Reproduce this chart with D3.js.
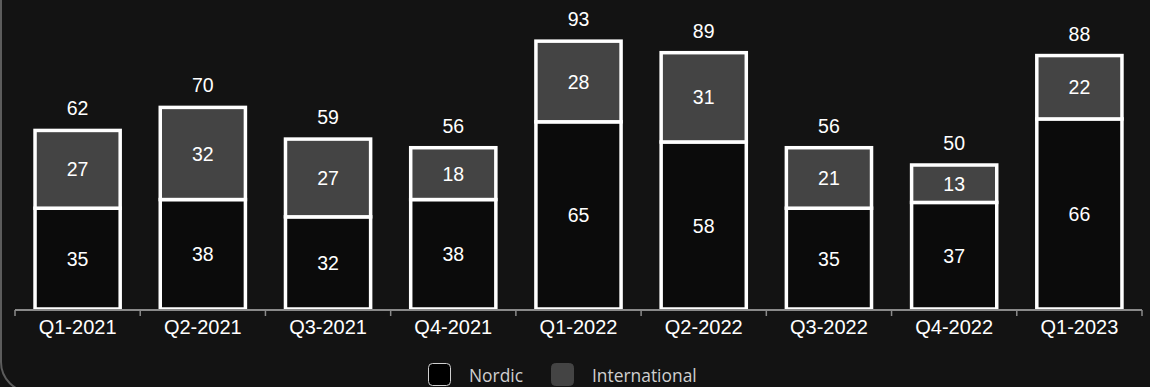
<!DOCTYPE html>
<html>
<head>
<meta charset="utf-8">
<script src="https://cdn.jsdelivr.net/npm/d3@7/dist/d3.min.js"></script>
<style>
  html, body { margin: 0; padding: 0; background: #131313; }
  svg { display: block; }
</style>
</head>
<body>
<svg id="chart" width="1150" height="387"></svg>
<script>
// Quarterly figures, split by market
const quarters = ["Q1-2021", "Q2-2021", "Q3-2021", "Q4-2021", "Q1-2022", "Q2-2022", "Q3-2022", "Q4-2022", "Q1-2023"];
const nordic = [35, 38, 32, 38, 65, 58, 35, 37, 66];
const international = [27, 32, 27, 18, 28, 31, 21, 13, 22];
const seriesNames = ["Nordic", "International"];
const seriesColors = ["#0b0b0b", "#444444"];

const W = 1150, H = 387;
const margin = { left: 15, right: 8, top: 21, bottom: 78 };
const svg = d3.select("#chart");

// Card outline with a rounded lower-left corner
svg.append("rect")
  .attr("x", 1).attr("y", -40)
  .attr("width", W + 40).attr("height", 432)
  .attr("rx", 30)
  .attr("fill", "#131313")
  .attr("stroke", "#5c5c5c")
  .attr("stroke-width", 2);

const rows = quarters.map((q, i) => ({ q, Nordic: nordic[i], International: international[i] }));
const stacked = d3.stack().keys(seriesNames)(rows);

const x = d3.scaleBand().domain(quarters)
  .range([margin.left, W - margin.right])
  .paddingInner(0.32).paddingOuter(0.16);
const y = d3.scaleLinear().domain([0, 100]).range([H - margin.bottom, margin.top]);
const color = d3.scaleOrdinal().domain(seriesNames).range(seriesColors);

const font = "'Liberation Sans', Arial, sans-serif";

// Stacked segments
const layer = svg.append("g").selectAll("g")
  .data(stacked).join("g")
  .attr("fill", d => color(d.key));

layer.selectAll("rect")
  .data(d => d)
  .join("rect")
  .attr("x", d => x(d.data.q))
  .attr("y", d => y(d[1]))
  .attr("width", x.bandwidth())
  .attr("height", d => y(d[0]) - y(d[1]))
  .attr("stroke", "#ffffff")
  .attr("stroke-width", 3.5);

// Segment values
layer.selectAll("text")
  .data(d => d)
  .join("text")
  .attr("x", d => x(d.data.q) + x.bandwidth() / 2)
  .attr("y", d => (y(d[0]) + y(d[1])) / 2)
  .attr("dy", "0.36em")
  .attr("text-anchor", "middle")
  .attr("fill", "#ffffff")
  .style("font-family", font)
  .style("font-size", "19.5px")
  .text(d => d[1] - d[0]);

// Totals above each bar
svg.append("g").selectAll("text")
  .data(rows).join("text")
  .attr("x", d => x(d.q) + x.bandwidth() / 2)
  .attr("y", d => y(d.Nordic + d.International) - 22)
  .attr("dy", "0.36em")
  .attr("text-anchor", "middle")
  .attr("fill", "#ffffff")
  .style("font-family", font)
  .style("font-size", "19.5px")
  .text(d => d.Nordic + d.International);

// Category axis with separators between quarters
const axisY = y(0) + 1;
const axisG = svg.append("g");
axisG.append("line")
  .attr("x1", margin.left).attr("x2", W - margin.right)
  .attr("y1", axisY).attr("y2", axisY)
  .attr("stroke", "#8a8a8a").attr("stroke-width", 2);
const step = x.step();
const bounds = d3.range(quarters.length + 1).map(i => margin.left + i * step);
axisG.selectAll("line.sep")
  .data(bounds).join("line")
  .attr("class", "sep")
  .attr("x1", d => d).attr("x2", d => d)
  .attr("y1", axisY).attr("y2", axisY + 6)
  .attr("stroke", "#8a8a8a").attr("stroke-width", 1.5);
axisG.selectAll("text")
  .data(quarters).join("text")
  .attr("x", d => x(d) + x.bandwidth() / 2)
  .attr("y", axisY + 17)
  .attr("dy", "0.36em")
  .attr("text-anchor", "middle")
  .attr("fill", "#ffffff")
  .style("font-family", font)
  .style("font-size", "20px")
  .text(d => d);

// Legend
const legend = svg.append("g").attr("transform", "translate(428,363)");
const items = [
  { name: "Nordic", fill: "#000000", stroke: "#d0d0d0", x: 0 },
  { name: "International", fill: "#444444", stroke: "#444444", x: 123 }
];
const li = legend.selectAll("g").data(items).join("g")
  .attr("transform", d => `translate(${d.x},0)`);
li.append("rect")
  .attr("x", 0.5).attr("y", 0.5)
  .attr("width", 22).attr("height", 22)
  .attr("rx", 4)
  .attr("fill", d => d.fill)
  .attr("stroke", d => d.stroke)
  .attr("stroke-width", 1);
li.append("text")
  .attr("x", 41).attr("y", 13)
  .attr("dy", "0.36em")
  .attr("fill", "#cfcfcf")
  .style("font-family", "'Open Sans', 'Noto Sans', sans-serif")
  .style("font-size", "17.4px")
  .text(d => d.name);
</script>
</body>
</html>
